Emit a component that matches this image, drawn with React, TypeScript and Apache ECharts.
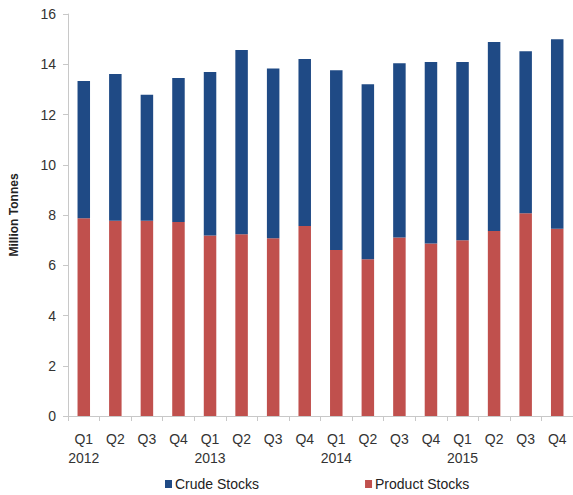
import React, { useEffect, useRef } from "react";
import * as echarts from "echarts";

const categories = [
  "Q1\n2012", "Q2", "Q3", "Q4",
  "Q1\n2013", "Q2", "Q3", "Q4",
  "Q1\n2014", "Q2", "Q3", "Q4",
  "Q1\n2015", "Q2", "Q3", "Q4",
];
const productStocks = [7.87, 7.77, 7.77, 7.72, 7.18, 7.23, 7.07, 7.56, 6.61, 6.24, 7.1, 6.87, 7.0, 7.36, 8.07, 7.45];
const crudeStocks = [5.46, 5.84, 5.02, 5.73, 6.51, 7.34, 6.76, 6.65, 7.15, 6.96, 6.94, 7.22, 7.09, 7.53, 6.45, 7.55];
const yTicks = { min: 0, max: 16, interval: 2 };

export default function App() {
  const ref = useRef<HTMLDivElement>(null);
  useEffect(() => {
    if (!ref.current) return;
    const chart = echarts.init(ref.current, null, { renderer: "svg" });
    const font = "Liberation Sans, Arial, sans-serif";
    chart.setOption({
      animation: false,
      backgroundColor: "#ffffff",
      textStyle: { fontFamily: font },
      grid: { left: 66, top: 14, width: 512, height: 402, containLabel: false },
      legend: {
        data: ["Crude Stocks", "Product Stocks"],
        left: 160,
        top: 472,
        itemWidth: 7,
        itemHeight: 8,
        itemGap: 106,
        icon: "rect",
        textStyle: { fontFamily: font, fontSize: 14, color: "#222222", padding: [0, 0, 0, -2] },
      },
      xAxis: {
        type: "category",
        data: categories,
        axisLine: { lineStyle: { color: "#c8c8c8", width: 1 } },
        axisTick: { show: true, alignWithLabel: false, length: 5, lineStyle: { color: "#c8c8c8" } },
        axisLabel: { fontFamily: font, fontSize: 14, color: "#333333", margin: 13, lineHeight: 19, interval: 0 },
      },
      yAxis: {
        type: "value",
        min: yTicks.min,
        max: yTicks.max,
        interval: yTicks.interval,
        name: "Million Tonnes",
        nameLocation: "middle",
        nameGap: 48,
        nameRotate: 90,
        nameTextStyle: { fontFamily: font, fontSize: 12, fontWeight: "bold", color: "#222222" },
        axisLine: { show: true, lineStyle: { color: "#c8c8c8", width: 1 } },
        axisTick: { show: true, length: 5, lineStyle: { color: "#c8c8c8" } },
        axisLabel: { fontFamily: font, fontSize: 14, color: "#333333", margin: 12 },
        splitLine: { show: false },
      },
      series: [
        {
          name: "Product Stocks",
          type: "bar",
          stack: "total",
          data: productStocks,
          barWidth: 12.5,
          itemStyle: { color: "#c0504d" },
        },
        {
          name: "Crude Stocks",
          type: "bar",
          stack: "total",
          data: crudeStocks,
          barWidth: 12.5,
          itemStyle: { color: "#1f4a85" },
        },
      ],
    });
    return () => chart.dispose();
  }, []);
  return <div ref={ref} style={{ position: "fixed", left: 0, top: 0, width: 573, height: 495 }} />;
}
